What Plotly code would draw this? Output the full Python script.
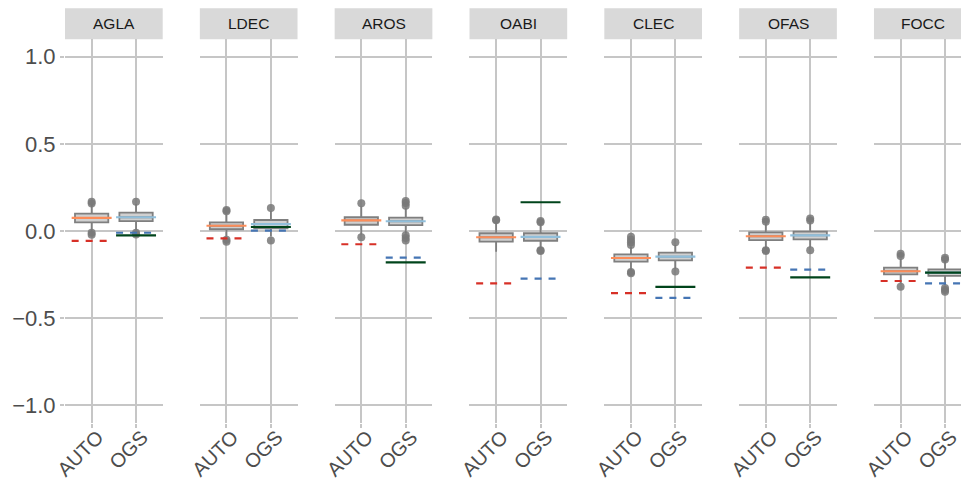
import plotly.graph_objects as go

sites = ["AGLA", "LDEC", "AROS", "OABI", "CLEC", "OFAS", "FOCC"]
methods = ["AUTO", "OGS"]

# Box statistics per site: [AUTO, OGS]
q1 = {
    "AGLA": [0.050, 0.057], "LDEC": [0.010, 0.015], "AROS": [0.036, 0.034],
    "OABI": [-0.061, -0.056], "CLEC": [-0.176, -0.168], "OFAS": [-0.052, -0.048],
    "FOCC": [-0.249, -0.258],
}
median = {
    "AGLA": [0.075, 0.079], "LDEC": [0.030, 0.040], "AROS": [0.061, 0.056],
    "OABI": [-0.036, -0.034], "CLEC": [-0.155, -0.147], "OFAS": [-0.030, -0.025],
    "FOCC": [-0.231, -0.239],
}
q3 = {
    "AGLA": [0.100, 0.105], "LDEC": [0.050, 0.063], "AROS": [0.079, 0.077],
    "OABI": [-0.013, -0.013], "CLEC": [-0.134, -0.124], "OFAS": [-0.008, -0.004],
    "FOCC": [-0.210, -0.220],
}
lower_whisker = {
    "AGLA": [0.000, 0.005], "LDEC": [-0.030, -0.030], "AROS": [-0.020, -0.015],
    "OABI": [-0.119, -0.100], "CLEC": [-0.225, -0.215], "OFAS": [-0.100, -0.095],
    "FOCC": [-0.300, -0.310],
}
upper_whisker = {
    "AGLA": [0.150, 0.155], "LDEC": [0.095, 0.115], "AROS": [0.140, 0.130],
    "OABI": [0.050, 0.040], "CLEC": [-0.090, -0.080], "OFAS": [0.040, 0.050],
    "FOCC": [-0.160, -0.170],
}
outliers = {
    "AGLA": [[0.168, 0.158, -0.010, -0.022], [0.168, -0.010, -0.020]],
    "LDEC": [[0.120, 0.113, -0.050, -0.061], [0.132, -0.055]],
    "AROS": [[0.159, -0.036], [0.145, 0.160, 0.172, -0.025, -0.040, -0.055]],
    "OABI": [[0.061, 0.066], [0.050, 0.058, -0.110, -0.115]],
    "CLEC": [[-0.033, -0.050, -0.065, -0.080, -0.235, -0.243], [-0.065, -0.233]],
    "OFAS": [[0.053, 0.065, -0.110, -0.115], [0.060, 0.072, -0.110]],
    "FOCC": [[-0.143, -0.130, -0.320], [-0.153, -0.163, -0.327, -0.338, -0.348]],
}
# Reference values (horizontal segments)
auto_mean = {"AGLA": 0.075, "LDEC": 0.030, "AROS": 0.061, "OABI": -0.036,
             "CLEC": -0.155, "OFAS": -0.030, "FOCC": -0.231}
ogs_mean = {"AGLA": 0.079, "LDEC": 0.040, "AROS": 0.056, "OABI": -0.034,
            "CLEC": -0.147, "OFAS": -0.025, "FOCC": -0.239}
auto_ref = {"AGLA": -0.057, "LDEC": -0.042, "AROS": -0.076, "OABI": -0.300,
            "CLEC": -0.356, "OFAS": -0.210, "FOCC": -0.287}
ogs_ref = {"AGLA": -0.010, "LDEC": 0.002, "AROS": -0.153, "OABI": -0.273,
           "CLEC": -0.384, "OFAS": -0.222, "FOCC": -0.300}
ogs_obs = {"AGLA": -0.025, "LDEC": 0.023, "AROS": -0.180, "OABI": 0.165,
           "CLEC": -0.321, "OFAS": -0.266, "FOCC": -0.239}

y_ticks = [-1.0, -0.5, 0.0, 0.5, 1.0]
y_ticktext = ["\u22121.0", "\u22120.5", "0.0", "0.5", "1.0"]

# page has an 8px body margin; figure coordinates are page coordinates minus 8
OFF = 8
W, H = 969 - OFF, 480 - OFF
panel_left0 = 65.0 - OFF
panel_step = 134.83
panel_w = 97.7
px_per_unit = panel_w / 2.2
plot_top, plot_bot = 39.3 - OFF, 422.7 - OFF
strip_top = 8.3 - OFF

GRID = "#c6c6c6"
BOX_LINE = "#7f7f7f"
BOX_FILL = "#d0d0d0"
C_ORANGE = "#fc8d59"
C_LBLUE = "#91bfdb"
C_RED = "#d73027"
C_BLUE = "#4575b4"
C_GREEN = "#00441b"
FONT = "Liberation Sans, Arial, sans-serif"

fig = go.Figure()
half = 0.45
box_w = 0.75

for i, s in enumerate(sites):
    xa = "x" if i == 0 else f"x{i+1}"
    ya = "y" if i == 0 else f"y{i+1}"
    for j, m in enumerate(methods):
        fig.add_trace(go.Box(
            x=[j], q1=[q1[s][j]], median=[median[s][j]], q3=[q3[s][j]],
            lowerfence=[lower_whisker[s][j]], upperfence=[upper_whisker[s][j]],
            width=box_w, fillcolor=BOX_FILL, line=dict(color=BOX_LINE, width=1.8),
            boxpoints=False, whiskerwidth=0, xaxis=xa, yaxis=ya, showlegend=False,
            hoverinfo="skip"))
        fig.add_trace(go.Scatter(
            x=[j] * len(outliers[s][j]), y=outliers[s][j], mode="markers",
            marker=dict(color="rgba(120,120,120,0.85)", size=8),
            xaxis=xa, yaxis=ya, showlegend=False, hoverinfo="skip"))

    def seg(xc, yv, color, dash=None):
        fig.add_trace(go.Scatter(
            x=[xc - half, xc + half], y=[yv, yv], mode="lines",
            line=dict(color=color, width=2.2, dash=dash),
            xaxis=xa, yaxis=ya, showlegend=False, hoverinfo="skip"))

    seg(0, auto_mean[s], C_ORANGE)
    seg(1, ogs_mean[s], C_LBLUE)
    seg(0, auto_ref[s], C_RED, "7px,7px")
    seg(1, ogs_ref[s], C_BLUE, "7px,7px")
    seg(1, ogs_obs[s], C_GREEN)

layout = dict(
    width=W, height=H, margin=dict(l=0, r=0, t=0, b=0),
    paper_bgcolor="white", plot_bgcolor="white", showlegend=False,
    font=dict(family=FONT, color="#4d4d4d"),
)
shapes = []
annotations = []
ydom = [(H - plot_bot) / H, (H - plot_top) / H]
for i, s in enumerate(sites):
    left = panel_left0 + i * panel_step
    right = min(left + panel_w, W)
    x_lo = -0.6
    x_hi = x_lo + (right - left) / px_per_unit
    xkey = "xaxis" if i == 0 else f"xaxis{i+1}"
    ykey = "yaxis" if i == 0 else f"yaxis{i+1}"
    layout[xkey] = dict(
        domain=[left / W, right / W], range=[x_lo, x_hi], anchor="y" if i == 0 else f"y{i+1}",
        tickmode="array", tickvals=[0, 1], ticktext=methods, tickangle=-45,
        showgrid=True, gridcolor=GRID, gridwidth=1.6, zeroline=False,
        ticks="outside", ticklen=4, tickcolor=GRID, tickwidth=1.6,
        ticklabelstandoff=-10, ticklabelshift=6,
        tickfont=dict(size=20, color="#4d4d4d", family=FONT),
        showline=False, fixedrange=True, automargin=False,
    )
    layout[ykey] = dict(
        domain=ydom, range=[-1.1, 1.1], anchor="x" if i == 0 else f"x{i+1}",
        tickmode="array", tickvals=y_ticks, ticktext=y_ticktext,
        showgrid=True, gridcolor=GRID, gridwidth=1.6, zeroline=False,
        showticklabels=(i == 0), ticks="outside" if i == 0 else "",
        ticklen=4, tickcolor=GRID, tickwidth=1.6,
        tickfont=dict(size=22, color="#4d4d4d", family=FONT),
        showline=False, fixedrange=True, automargin=False,
    )
    shapes.append(dict(type="rect", xref="paper", yref="paper",
                       x0=left / W, x1=right / W,
                       y0=(H - plot_top) / H, y1=min((H - strip_top) / H, 1.0),
                       fillcolor="#d9d9d9", line=dict(width=0), layer="below"))
    annotations.append(dict(xref="paper", yref="paper",
                            x=(left + panel_w / 2) / W,
                            y=(H - (plot_top + strip_top) / 2) / H,
                            text=s, showarrow=False, xanchor="center", yanchor="middle",
                            font=dict(size=15.5, color="#1a1a1a", family=FONT)))
layout["shapes"] = shapes
layout["annotations"] = annotations
fig.update_layout(**layout)
fig.write_html("out.html")
